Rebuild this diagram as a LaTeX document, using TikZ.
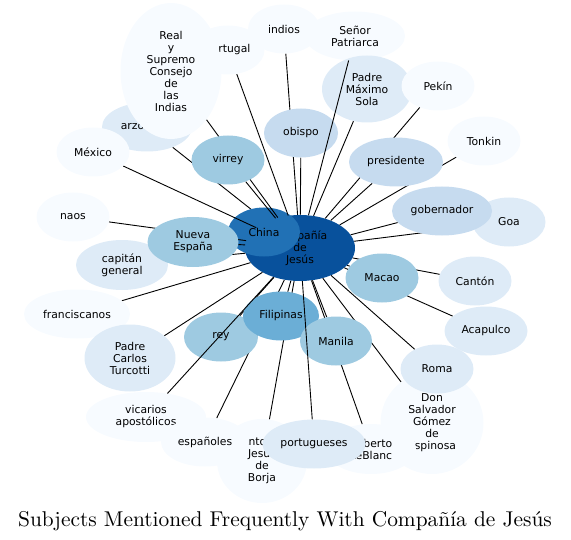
\documentclass[tikz,border=0pt]{standalone}
\usepackage{fontspec}
\newfontfamily\nodefont{DejaVu Sans}
\newfontfamily\titlefont{lmroman10-regular.otf}
\usetikzlibrary{shapes.geometric}
\pgfdeclarelayer{lc}
\pgfdeclarelayer{la}
\pgfdeclarelayer{lch}
\pgfdeclarelayer{le}
\pgfdeclarelayer{lt}
\pgfsetlayers{lc,la,lch,le,main,lt}
\definecolor{bA}{HTML}{F7FBFF}
\definecolor{bB}{HTML}{DEEBF7}
\definecolor{bC}{HTML}{C6DBEF}
\definecolor{bD}{HTML}{9ECAE1}
\definecolor{bE}{HTML}{6BAED6}
\definecolor{bF}{HTML}{2171B5}
\definecolor{bG}{HTML}{08519C}
\tikzset{
  ent/.style n args={3}{ellipse, inner sep=0pt, align=center,
    font=\nodefont\fontsize{10.8bp}{12bp}\selectfont, text=black,
    fill=#1, minimum width=#2, minimum height=#3},
  link/.style={draw=black, line width=0.9bp},
}
\begin{document}
\begin{tikzpicture}[x=1bp,y=-1bp]
\useasboundingbox (0,0) rectangle (571,540);
\begin{pgfonlayer}{lc}
\node[ent={bG}{110bp}{66bp}] (cj) at (300,248) {Compañía\\de\\Jesús};
\end{pgfonlayer}
\begin{pgfonlayer}{lch}
\node[ent={bF}{72bp}{49bp}] (china) at (264,232) {China};
\end{pgfonlayer}
% main layer nodes, in drawing order
\node[ent={bA}{73bp}{49bp}] (portugal) at (228,50) {Portugal};
\node[ent={bA}{72bp}{49bp}] (indios) at (284,29) {indios};
\node[ent={bA}{100bp}{49bp}] (senor) at (355,36) {Señor\\Patriarca};
\node[ent={bB}{90bp}{67bp}] (sola) at (367,89) {Padre\\Máximo\\Sola};
\node[ent={bA}{73bp}{49bp}] (pekin) at (438,86) {Pekín};
\node[ent={bB}{90bp}{49bp}] (arzobispo) at (147,127) {arzobispo};
\node[ent={bA}{101bp}{136bp}] (consejo) at (171,71) {Real\\y\\Supremo\\Consejo\\de\\las\\Indias};
\node[ent={bA}{73bp}{49bp}] (mexico) at (93,152) {México};
\node[ent={bA}{73bp}{49bp}] (naos) at (73,217) {naos};
\node[ent={bB}{92bp}{50bp}] (capitan) at (122,265) {capitán\\general};
\node[ent={bA}{106bp}{49bp}] (franciscanos) at (77,314) {franciscanos};
\node[ent={bB}{91bp}{67bp}] (turcotti) at (130,358) {Padre\\Carlos\\Turcotti};
\node[ent={bD}{91bp}{50bp}] (nueva) at (193,242) {Nueva\\España};
\node[ent={bD}{73bp}{49bp}] (virrey) at (228,160) {virrey};
\node[ent={bC}{74bp}{49bp}] (obispo) at (301,133) {obispo};
\node[ent={bC}{94bp}{49bp}] (presidente) at (396,162) {presidente};
\node[ent={bA}{73bp}{49bp}] (tonkin) at (484,141) {Tonkin};
\node[ent={bB}{73bp}{49bp}] (goa) at (509,222) {Goa};
\node[ent={bC}{100bp}{49bp}] (gobernador) at (442,211) {gobernador};
\node[ent={bD}{73bp}{49bp}] (macao) at (382,278) {Macao};
\node[ent={bB}{73bp}{49bp}] (canton) at (475,281) {Cantón};
\node[ent={bB}{83bp}{49bp}] (acapulco) at (486,331) {Acapulco};
\node[ent={bA}{103bp}{102bp}] (salvador) at (432,423) {Don\\Salvador\\Gómez\\de\\Espinosa};
\node[ent={bB}{73bp}{49bp}] (roma) at (437,369) {Roma};
\node[ent={bA}{90bp}{50bp}] (leblanc) at (371,449) {Roberto\\LeBlanc};
\node[ent={bA}{90bp}{84bp}] (borja) at (262,461) {Antonio\\Jesús\\de\\Borja};
\node[ent={bA}{120bp}{50bp}] (vicarios) at (146,417) {vicarios\\apostólicos};
\node[ent={bA}{88bp}{49bp}] (espanoles) at (205,442) {españoles};
\node[ent={bD}{74bp}{49bp}] (rey) at (221,337) {rey};
\node[ent={bE}{76bp}{49bp}] (filipinas) at (281,316) {Filipinas};
\node[ent={bD}{72bp}{49bp}] (manila) at (336,341) {Manila};
\node[ent={bB}{103bp}{49bp}] (portugueses) at (314,444) {portugueses};
% edges below China
\begin{pgfonlayer}{la}
\draw[link] (arzobispo) -- (cj);
\end{pgfonlayer}
% edges above China, below the other nodes
\begin{pgfonlayer}{le}
\draw[link] (mexico) -- (cj);
\draw[link] (nueva) -- (cj);
\draw[link] (naos) -- (cj);
\draw[link] (virrey) -- (cj);
\draw[link] (consejo) -- (cj);
\draw[link] (portugal) -- (cj);
\draw[link] (indios) -- (cj);
\draw[link] (obispo) -- (cj);
\draw[link] (sola) -- (cj);
\draw[link] (pekin) -- (cj);
\draw[link] (presidente) -- (cj);
\draw[link] (tonkin) -- (cj);
\draw[link] (gobernador) -- (cj);
\draw[link] (goa) -- (cj);
\draw[link] (macao) -- (cj);
\draw[link] (canton) -- (cj);
\draw[link] (acapulco) -- (cj);
\draw[link] (roma) -- (cj);
\draw[link] (salvador) -- (cj);
\draw[link] (leblanc) -- (cj);
\draw[link] (manila) -- (cj);
\draw[link] (borja) -- (cj);
\draw[link] (espanoles) -- (cj);
\draw[link] (rey) -- (cj);
\draw[link] (filipinas) -- (cj);
\draw[link] (turcotti) -- (cj);
\draw[link] (franciscanos) -- (cj);
\draw[link] (capitan) -- (cj);
\end{pgfonlayer}
% edges drawn over nodes
\begin{pgfonlayer}{lt}
\draw[link] (senor) -- (cj);
\draw[link] (portugueses) -- (cj);
\draw[link] (vicarios) -- (cj);
\end{pgfonlayer}
\node[anchor=base, font=\titlefont\fontsize{21.4bp}{24bp}\selectfont] (title) at (285,526) {Subjects Mentioned Frequently With Compañía de Jesús};
\end{tikzpicture}
\end{document}
